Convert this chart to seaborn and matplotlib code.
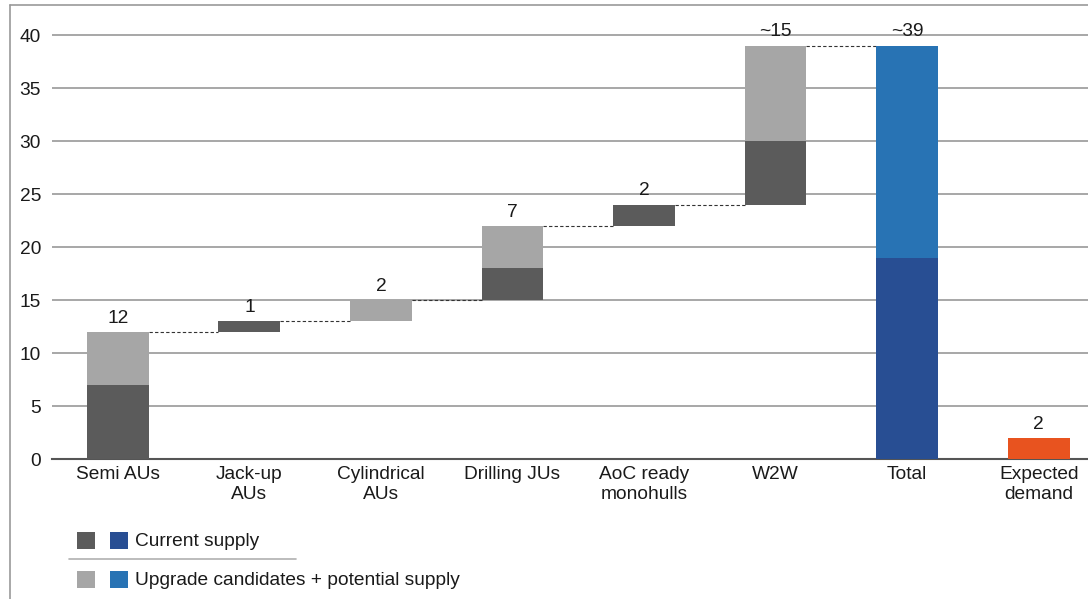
import numpy as np
import matplotlib
matplotlib.use("Agg")
import matplotlib.pyplot as plt
from matplotlib.lines import Line2D
from matplotlib.patches import Rectangle
import seaborn as sns

categories = ["Semi AUs", "Jack-up\nAUs", "Cylindrical\nAUs", "Drilling JUs",
              "AoC ready\nmonohulls", "W2W", "Total", "Expected\ndemand"]
base = [0, 12, 13, 15, 22, 24, 0, 0]
current = [7, 1, 0, 3, 2, 6, 19, 2]
upgrade = [5, 0, 2, 4, 0, 9, 20, 0]
value_labels = ["12", "1", "2", "7", "2", "~15", "~39", "2"]

DARK_GREY = "#5b5b5b"
LIGHT_GREY = "#a6a6a6"
DARK_BLUE = "#284e93"
BLUE = "#2873b4"
ORANGE = "#e8531f"

current_colors = [DARK_GREY] * 6 + [DARK_BLUE, ORANGE]
upgrade_colors = [LIGHT_GREY] * 6 + [BLUE, ORANGE]

sns.set_style("white")
plt.rcParams["font.family"] = ["Liberation Sans", "DejaVu Sans"]
FS = 13.8

fig = plt.figure(figsize=(10.88, 5.99), dpi=100)
ax = fig.add_axes([52 / 1088, 140 / 599, 1036 / 1088, 445 / 599])

x = np.arange(len(categories))
base = np.array(base)
current = np.array(current)
upgrade = np.array(upgrade)
bar_w = 0.47

ax.bar(x, current, bottom=base, width=bar_w, color=current_colors, lw=0, zorder=3)
ax.bar(x, upgrade, bottom=base + current, width=bar_w, color=upgrade_colors, lw=0, zorder=3)

tops = base + current + upgrade
for i, (t, lab) in enumerate(zip(tops, value_labels)):
    ax.text(i, t + 0.5, lab, ha="center", va="bottom", fontsize=FS, color="#1a1a1a", zorder=4)

# dashed connectors between steps
for i in range(6):
    ax.plot([i + bar_w / 2, i + 1 - bar_w / 2], [tops[i], tops[i]],
            ls=(0, (3, 2)), color="#333333", lw=0.8, zorder=2)

ax.set_xlim(-0.5, 7.375)
ax.set_ylim(0, 42)
ax.set_yticks(range(0, 45, 5))
ax.yaxis.grid(True, color="#a0a0a0", lw=1.3, zorder=0)
ax.set_axisbelow(True)
ax.set_xticks(x)
ax.set_xticklabels(categories, fontsize=FS, color="#1a1a1a", linespacing=1.25)
ax.tick_params(axis="y", labelsize=FS, labelcolor="#1a1a1a", length=0, pad=8)
ax.tick_params(axis="x", length=0, pad=5)
for s in ["top", "right", "left"]:
    ax.spines[s].set_visible(False)
ax.spines["bottom"].set_color("#555555")
ax.spines["bottom"].set_linewidth(1.5)

# figure border
fig.add_artist(Line2D([9.5 / 1088, 9.5 / 1088], [0, 594 / 599], color="#999999", lw=1.2))
fig.add_artist(Line2D([9.5 / 1088, 1], [594 / 599, 594 / 599], color="#999999", lw=1.2))

# legend
def px(xp, yp):
    return xp / 1088, 1 - yp / 599

for (c1, c2, label, yc) in [(DARK_GREY, DARK_BLUE, "Current supply", 540),
                            (LIGHT_GREY, BLUE, "Upgrade candidates + potential supply", 579)]:
    for xs, col in [(77, c1), (110, c2)]:
        x0, y0 = px(xs, yc + 8.5)
        fig.add_artist(Rectangle((x0, y0), 18 / 1088, 17 / 599, color=col, lw=0,
                                 transform=fig.transFigure))
    tx, ty = px(135, yc + 1.5)
    fig.text(tx, ty, label, ha="left", va="center", fontsize=FS, color="#1a1a1a")
fig.add_artist(Line2D([69 / 1088, 296 / 1088], [1 - 559 / 599] * 2, color="#b0b0b0", lw=1.2))

fig.savefig("out.png", dpi=100)
